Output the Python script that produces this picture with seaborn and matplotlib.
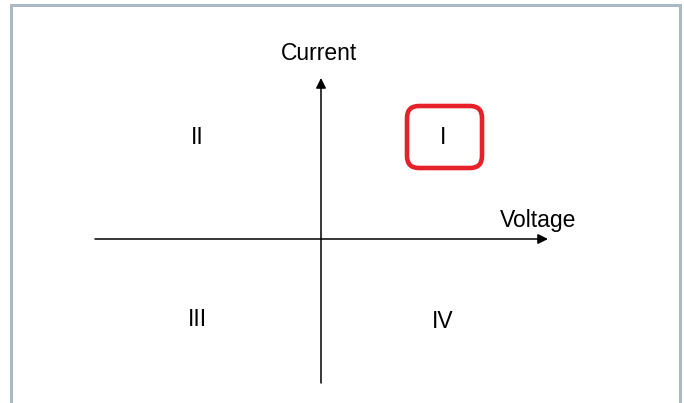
import matplotlib.pyplot as plt
import seaborn as sns
from matplotlib.patches import FancyBboxPatch

# quadrant diagram: voltage (x) vs current (y), origin at the centre
quadrants = ["I", "II", "III", "IV"]
quad_x = [122, -124, -124, 122]
quad_y = [102, 102, -81, -83]
highlight = "I"

axis_names = ["Voltage", "Current"]
volt_range = [-226, 227]
curr_range = [-144, 161]

sns.set_style("white")
plt.rcParams['font.family'] = ['Liberation Sans', 'DejaVu Sans']

fig = plt.figure(figsize=(6.84, 4.03), dpi=100)
ax = fig.add_axes([0, 0, 1, 1])
ax.set_xlim(-321, 684 - 321)
ax.set_ylim(239 - 403, 239)
ax.axis('off')

# frame around the diagram
frame_col = '#aeb8c2'
ax.plot([-310, -310, 359, 359], [-170, 234, 234, -170], color=frame_col, lw=2.2,
        solid_joinstyle='miter')

# axes with arrows
arrow = dict(arrowstyle='-|>', color='black', lw=1.1, mutation_scale=15,
             shrinkA=0, shrinkB=0)
ax.annotate('', xy=(volt_range[1], 0), xytext=(volt_range[0], 0), arrowprops=arrow)
ax.annotate('', xy=(0, curr_range[1]), xytext=(0, curr_range[0]), arrowprops=arrow)

txt = dict(fontsize=16.5, ha='center', va='center', color='black')
ax.text(217, 19, axis_names[0], **txt)
ax.text(-2, 186, axis_names[1], **txt)

for name, x, y in zip(quadrants, quad_x, quad_y):
    ax.text(x, y, name, **txt)
    if name == highlight:
        box = FancyBboxPatch((x - 36, y - 31), 75, 62,
                             boxstyle='round,pad=0,rounding_size=12',
                             fill=False, ec='#e62129', lw=3.3)
        ax.add_patch(box)

fig.savefig('out.png', dpi=100)
